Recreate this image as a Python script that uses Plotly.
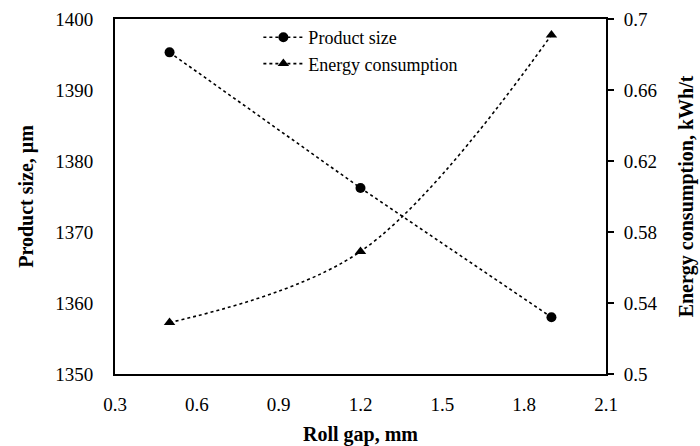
import plotly.graph_objects as go

roll_gap = [0.5, 1.2, 1.9]
product_size = [1395.3, 1376.2, 1358.0]
energy = [0.529, 0.569, 0.691]

x_ticks = [0.3, 0.6, 0.9, 1.2, 1.5, 1.8, 2.1]
y1_ticks = [1350, 1360, 1370, 1380, 1390, 1400]
y2_ticks = [0.5, 0.54, 0.58, 0.62, 0.66, 0.7]
y2_labels = ["0.5", "0.54", "0.58", "0.62", "0.66", "0.7"]

FONT = "Liberation Serif"

fig = go.Figure()
fig.add_trace(go.Scatter(
    x=roll_gap, y=product_size, name="Product size", mode="lines+markers",
    line=dict(color="black", width=1.6, dash="dot"),
    marker=dict(symbol="circle", size=10, color="black"),
))
fig.add_trace(go.Scatter(
    x=roll_gap, y=energy, name="Energy consumption", mode="lines+markers",
    yaxis="y2",
    line=dict(color="black", width=1.6, dash="dot", shape="spline", smoothing=1.0),
    marker=dict(symbol="triangle-up", size=10, color="black"),
))

fig.update_layout(
    width=700, height=446,
    margin=dict(l=115, r=94, t=19, b=72),
    paper_bgcolor="white", plot_bgcolor="white",
    font=dict(family=FONT, size=19, color="black"),
    showlegend=True,
    legend=dict(x=0.292, y=1.0, xanchor="left", yanchor="top",
                bgcolor="rgba(0,0,0,0)", font=dict(size=18, family=FONT),
                tracegroupgap=0, itemwidth=40),
    xaxis=dict(range=[0.3, 2.1], tickvals=x_ticks, ticktext=[f"{v:.1f}" for v in x_ticks],
               showgrid=False, zeroline=False, showline=True, linecolor="black", linewidth=2,
               mirror=True, ticks="", ticklabelstandoff=12, automargin=False,
               title=dict(text="<b>Roll gap, mm</b>", font=dict(size=20, family=FONT), standoff=16)),
    yaxis=dict(range=[1350, 1400], tickvals=y1_ticks, showgrid=False, zeroline=False,
               showline=True, linecolor="black", linewidth=2, ticks="", ticklabelstandoff=16,
               automargin=False,
               title=dict(text="<b>Product size, μm</b>", font=dict(size=20, family=FONT), standoff=16)),
    yaxis2=dict(range=[0.5, 0.7], tickvals=y2_ticks, ticktext=y2_labels, overlaying="y", side="right",
                showgrid=False, zeroline=False, showline=True, linecolor="black", linewidth=2,
                ticks="outside", ticklen=6, tickwidth=2, tickcolor="black", ticklabelstandoff=6,
                automargin=False,
                title=dict(text="<b>Energy consumption, kWh/t</b>", font=dict(size=20, family=FONT), standoff=22)),
)

fig.write_html("out.html")
